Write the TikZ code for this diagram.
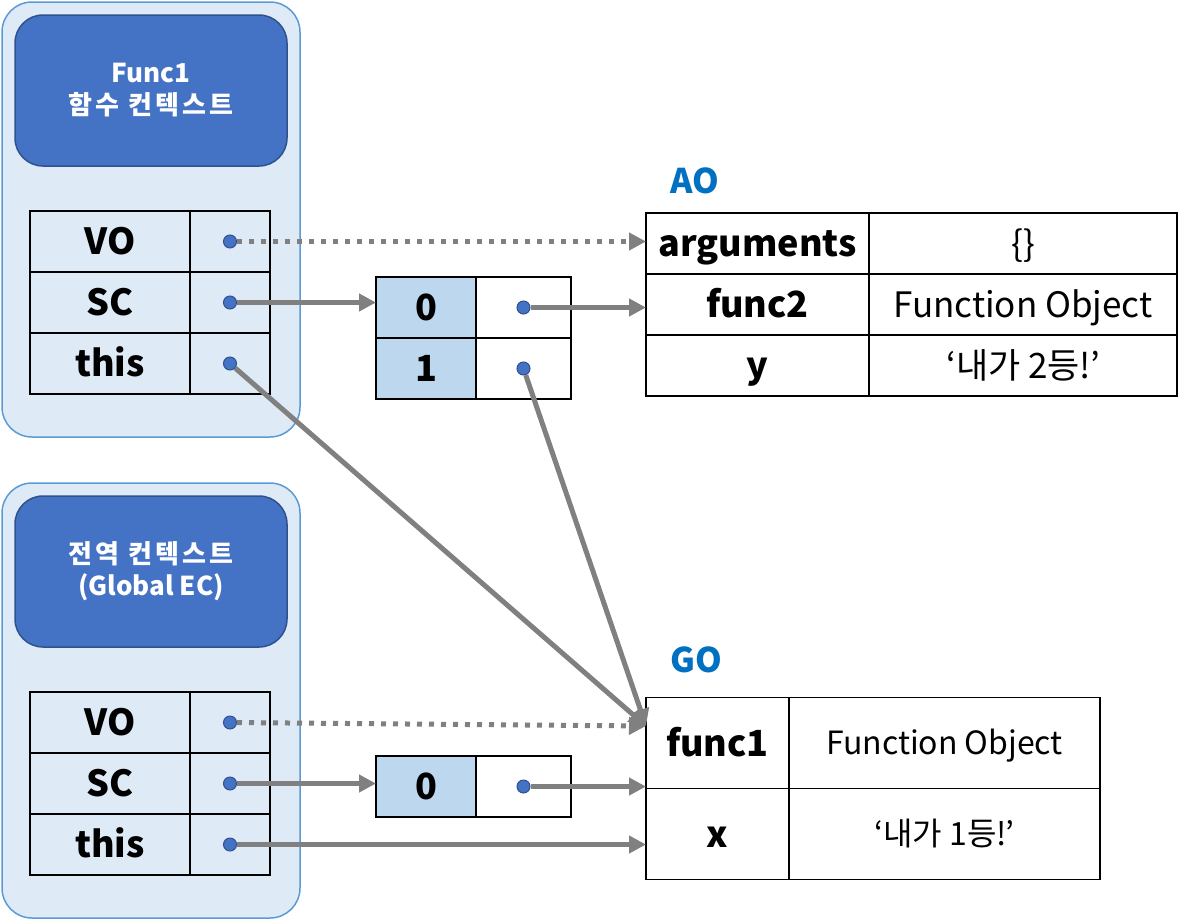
\documentclass[tikz,border=0pt]{standalone}
\usepackage{fontspec}
\setmainfont{Noto Sans CJK KR}
\usetikzlibrary{arrows.meta,positioning}
\definecolor{ecfill}{HTML}{DEEBF7}
\definecolor{ecline}{HTML}{5B9BD5}
\definecolor{headfill}{HTML}{4472C4}
\definecolor{headline}{HTML}{2F528F}
\definecolor{idxfill}{HTML}{BDD7EE}
\definecolor{objblue}{HTML}{0070C0}
\definecolor{ptrgray}{HTML}{808080}
\newcommand{\widekr}[1]{{\addfontfeature{LetterSpace=12}#1}}

\begin{document}
\begin{tikzpicture}[
    x=1pt, y=-1pt,
    ecbox/.style={draw=ecline, fill=ecfill, line width=1.5pt, rounded corners=30pt, minimum width=298pt, minimum height=435pt},
    echead/.style={draw=headline, fill=headfill, line width=1.5pt, rounded corners=28pt, minimum width=272pt, minimum height=151pt, text=white, align=center, font=\fontsize{26pt}{32pt}\selectfont\bfseries},
    cell/.style={draw, line width=1.6pt, outer sep=0pt, inner sep=0pt},
    keycell/.style={cell, minimum width=160pt, minimum height=61pt, text height=26pt, text depth=0pt, font=\fontsize{36pt}{40pt}\selectfont\bfseries},
    valcell/.style={cell, minimum width=80pt, minimum height=61pt},
    idxcell/.style={cell, fill=idxfill, minimum width=100pt, minimum height=61pt, text height=26pt, text depth=0pt, font=\fontsize{36pt}{40pt}\selectfont\bfseries},
    slotcell/.style={cell, fill=white, minimum width=95pt, minimum height=61pt},
    aokey/.style={keycell, minimum width=223pt},
    aoval/.style={cell, minimum width=308pt, minimum height=61pt, text height=25pt, text depth=0pt, font=\fontsize{35pt}{40pt}\selectfont},
    gokey/.style={keycell, minimum width=143pt, minimum height=91pt},
    goval/.style={cell, minimum width=311pt, minimum height=91pt, text height=23pt, text depth=0pt, font=\fontsize{32pt}{36pt}\selectfont},
    objlabel/.style={text=objblue, inner sep=0pt, text height=25pt, text depth=0pt, font=\fontsize{34pt}{36pt}\selectfont\bfseries},
    dot/.style={circle, fill=headfill, draw=headline, line width=1pt, minimum size=13pt, inner sep=0pt},
    ptr/.style={-{Triangle[length=17pt,width=17pt]}, draw=ptrgray, line width=5pt},
    ptrdot/.style={ptr, dash pattern=on 5pt off 7pt}
]
\useasboundingbox (0,0) rectangle (1182,921);

% Func1 context
\node[ecbox] (topEC) at (151,219.5) {};
\node[echead] (topHead) at (151,90.5) {Func1\\\widekr{함수 컨텍스트}};
\node[keycell] (topVO) at (110,241.5) {VO};
\node[keycell, below=0pt of topVO] (topSC) {SC};
\node[keycell, below=0pt of topSC] (topThis) {this};
\node[valcell, right=0pt of topVO] (topVOv) {};
\node[valcell, right=0pt of topSC] (topSCv) {};
\node[valcell, right=0pt of topThis] (topThisv) {};

% Global context
\node[ecbox] (botEC) at (151,700.5) {};
\node[echead] (botHead) at (151,571.5) {\widekr{전역 컨텍스트}\\(Global EC)};
\node[keycell] (botVO) at (110,722.5) {VO};
\node[keycell, below=0pt of botVO] (botSC) {SC};
\node[keycell, below=0pt of botSC] (botThis) {this};
\node[valcell, right=0pt of botVO] (botVOv) {};
\node[valcell, right=0pt of botSC] (botSCv) {};
\node[valcell, right=0pt of botThis] (botThisv) {};

% Scope chains
\node[idxcell] (arrTop0) at (426,307.5) {0};
\node[idxcell, below=0pt of arrTop0] (arrTop1) {1};
\node[slotcell, right=0pt of arrTop0] (arrTop0v) {};
\node[slotcell, right=0pt of arrTop1] (arrTop1v) {};
\node[idxcell] (arrBot0) at (426,786.5) {0};
\node[slotcell, right=0pt of arrBot0] (arrBot0v) {};

% AO
\node[objlabel] (aoLabel) at (695,180.5) {AO};
\node[aokey] (aoArgs) at (757.5,243.5) {arguments};
\node[aokey, below=0pt of aoArgs] (aoFunc) {func2};
\node[aokey, below=0pt of aoFunc] (aoY) {y};
\node[aoval, right=0pt of aoArgs] (aoArgsV) {\{\}};
\node[aoval, right=0pt of aoFunc] (aoFuncV) {Function Object};
\node[aoval, right=0pt of aoY] (aoYV) {‘내가 2등!’};

% GO
\node[objlabel] (goLabel) at (696,659.5) {GO};
\node[gokey] (goFunc) at (717.5,743) {func1};
\node[gokey, below=0pt of goFunc] (goX) {x};
\node[goval, right=0pt of goFunc] (goFuncV) {Function Object};
\node[goval, right=0pt of goX] (goXV) {‘내가 1등!’};
\coordinate (goIn) at ([yshift=17pt]goFunc.west);

% Dots
\node[dot] (topVOd) at (topVOv) {};
\node[dot] (topSCd) at (topSCv) {};
\node[dot] (topThisd) at (topThisv) {};
\node[dot] (botVOd) at (botVOv) {};
\node[dot] (botSCd) at (botSCv) {};
\node[dot] (botThisd) at (botThisv) {};
\node[dot] (arrTop0d) at (arrTop0v) {};
\node[dot] (arrTop1d) at (arrTop1v) {};
\node[dot] (arrBot0d) at (arrBot0v) {};

% Arrows
\draw[ptrdot] (topVOd) -- (topVOd -| aoArgs.west);
\draw[ptr] (topSCd) -- (topSCd -| arrTop0.west);
\draw[ptr] (arrTop0d) -- (arrTop0d -| aoFunc.west);
\draw[ptr] (topThisd) -- (goIn);
\draw[ptr] (arrTop1d) -- (goIn);
\draw[ptrdot] (botVOd) -- (goIn);
\draw[ptr] (botSCd) -- (botSCd -| arrBot0.west);
\draw[ptr] (arrBot0d) -- (arrBot0d -| goFunc.west);
\draw[ptr] (botThisd) -- (botThisd -| goX.west);

\end{tikzpicture}
\end{document}
